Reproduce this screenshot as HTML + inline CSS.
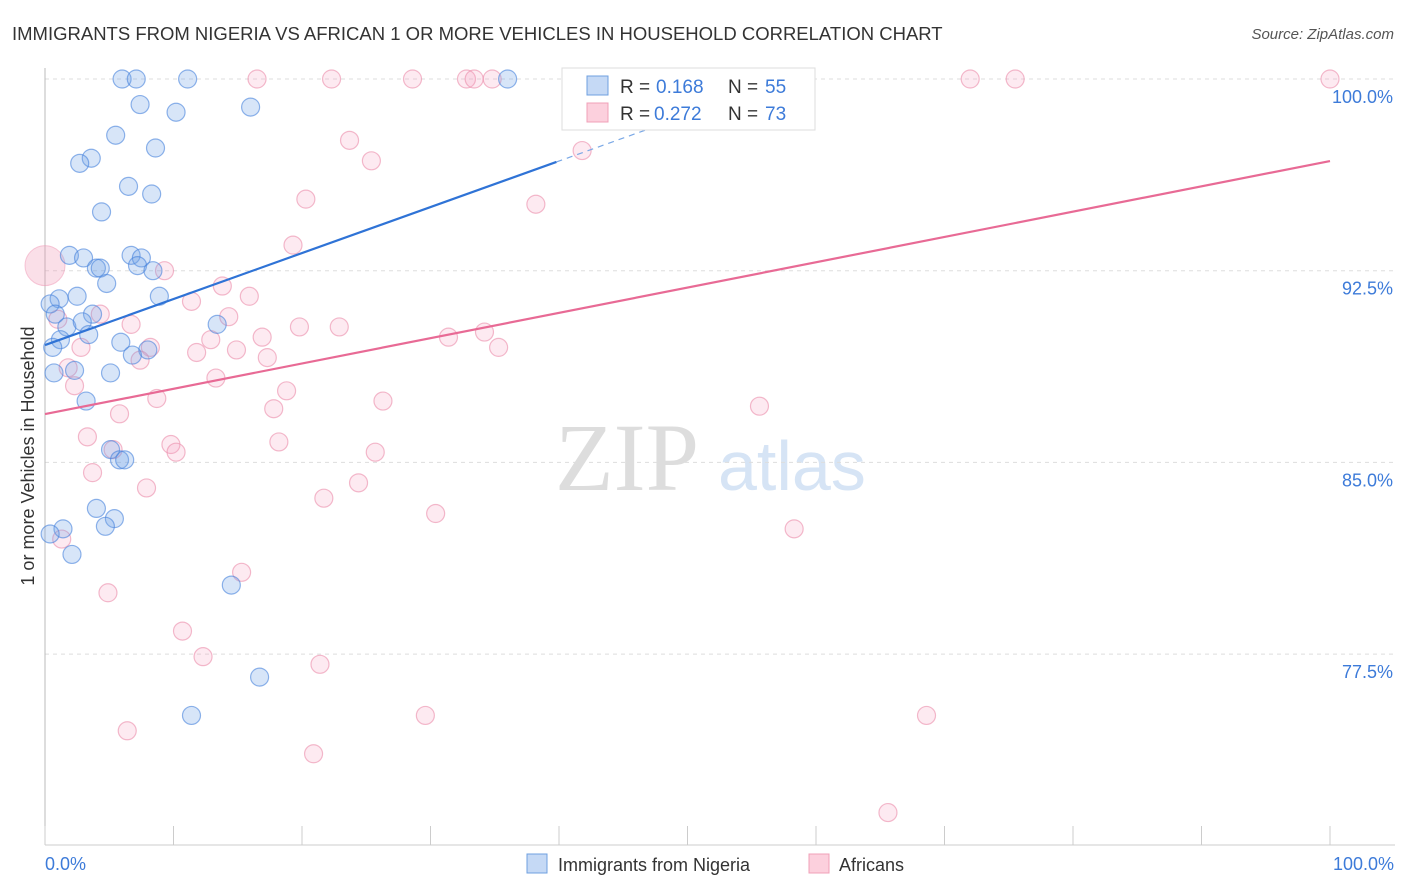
<!DOCTYPE html>
<html><head><meta charset="utf-8"><style>
body{margin:0;background:#fff;font-family:"Liberation Sans",sans-serif;}
svg{display:block}
</style></head><body>
<svg id="chart" width="1406" height="892">
<text x="12" y="40" font-size="18.5" fill="#333">IMMIGRANTS FROM NIGERIA VS AFRICAN 1 OR MORE VEHICLES IN HOUSEHOLD CORRELATION CHART</text>
<text x="1394" y="39" font-size="15" fill="#555" font-style="italic" text-anchor="end">Source: ZipAtlas.com</text>
<text x="555" y="490" font-size="96" fill="#ddd" font-family="Liberation Serif,serif">ZIP</text>
<text x="718" y="490" font-size="70" fill="#d6e4f5">atlas</text>
<g id="grid"></g>
<g id="marks"></g>
<text transform="translate(34,456) rotate(-90)" font-size="18" fill="#333" text-anchor="middle">1 or more Vehicles in Household</text>
<text x="45" y="870" font-size="18" fill="#3d7bd9">0.0%</text>
<text x="1394" y="870" font-size="18" fill="#3d7bd9" text-anchor="end">100.0%</text>
<g>
<rect x="562" y="68" width="253" height="62" fill="#fff" stroke="#ddd"/>
<rect x="587" y="76" width="21" height="19" fill="#c5d9f5" stroke="#6fa0e0"/>
<rect x="587" y="103" width="21" height="19" fill="#fcd0dd" stroke="#f0a0b8"/>
<text x="620" y="93" font-size="19" fill="#333">R =</text>
<text x="656" y="93" font-size="19" fill="#3d7bd9">0.168</text>
<text x="728" y="93" font-size="19" fill="#333">N =</text>
<text x="765" y="93" font-size="19" fill="#3d7bd9">55</text>
<text x="620" y="120" font-size="19" fill="#333">R =</text>
<text x="654" y="120" font-size="19" fill="#3d7bd9">0.272</text>
<text x="728" y="120" font-size="19" fill="#333">N =</text>
<text x="765" y="120" font-size="19" fill="#3d7bd9">73</text>
</g>
<g>
<rect x="527" y="854" width="20" height="19" fill="#c5d9f5" stroke="#6fa0e0"/>
<text x="558" y="871" font-size="18" fill="#333">Immigrants from Nigeria</text>
<rect x="809" y="854" width="20" height="19" fill="#fcd0dd" stroke="#f0a0b8"/>
<text x="839" y="871" font-size="18" fill="#333">Africans</text>
</g>
</svg>
<script>
const yTicks=[100,92.5,85,77.5];
const yTickLabels=["100.0%","92.5%","85.0%","77.5%"];
const xTicks=[0,10,20,30,40,50,60,70,80,90,100];
const blueX=[6.0,7.1,11.1,36.0,7.4,10.2,16.0,5.5,8.6,3.6,2.7,6.5,8.3,4.4,1.9,3.0,6.7,7.5,4.0,4.3,7.2,8.4,4.8,2.5,1.1,8.9,0.4,3.7,0.8,1.7,2.9,13.4,3.4,1.2,0.6,5.9,8.0,6.8,2.3,5.1,0.7,3.2,5.1,5.8,6.2,4.0,1.4,5.4,4.7,0.4,2.1,14.5,16.7,11.4];
const blueY=[100,100,100,100,99.0,98.7,98.9,97.8,97.3,96.9,96.7,95.8,95.5,94.8,93.1,93.0,93.1,93.0,92.6,92.6,92.7,92.5,92.0,91.5,91.4,91.5,91.2,90.8,90.8,90.3,90.5,90.4,90.0,89.8,89.5,89.7,89.4,89.2,88.6,88.5,88.5,87.4,85.5,85.1,85.1,83.2,82.4,82.8,82.5,82.2,81.4,80.2,76.6,75.1];
const pinkX=[16.5,22.3,28.6,32.8,33.4,34.8,42.6,52.4,59.1,72.0,75.5,100,23.7,25.4,41.8,20.3,38.2,19.3,9.3,13.8,15.9,11.4,14.3,1.0,4.3,6.7,19.8,22.9,16.9,31.4,34.2,12.9,2.8,11.8,14.9,8.2,17.3,35.3,7.4,1.8,2.3,13.3,8.7,18.8,26.3,17.8,5.8,55.6,3.3,9.8,10.2,18.2,25.7,5.3,3.7,7.9,24.4,21.7,30.4,58.3,1.3,15.3,4.9,10.7,12.3,21.4,29.6,68.6,6.4,20.9,65.6];
const pinkY=[100,100,100,100,100,100,100,100,100,100,100,100,97.6,96.8,97.2,95.3,95.1,93.5,92.5,91.9,91.5,91.3,90.7,90.6,90.8,90.4,90.3,90.3,89.9,89.9,90.1,89.8,89.5,89.3,89.4,89.5,89.1,89.5,89.0,88.7,88.0,88.3,87.5,87.8,87.4,87.1,86.9,87.2,86.0,85.7,85.4,85.8,85.4,85.5,84.6,84.0,84.2,83.6,83.0,82.4,82.0,80.7,79.9,78.4,77.4,77.1,75.1,75.1,74.5,73.6,71.3];
const bigPink=[0,92.7];
const blueTrend=[89.59,0.18];
const pinkTrend=[86.89,0.099];
const NS="http://www.w3.org/2000/svg";
const X=v=>45+v*12.85;
const Y=v=>79+(100-v)*25.56;
function mk(tag,attrs,parent){const e=document.createElementNS(NS,tag);for(const k in attrs)e.setAttribute(k,attrs[k]);parent.appendChild(e);return e;}
const grid=document.getElementById('grid'),marks=document.getElementById('marks'),svg=document.getElementById('chart');
yTicks.forEach((t,i)=>{
 const l=mk('line',{x1:45,x2:1395,y1:Y(t),y2:Y(t),stroke:'#ddd','stroke-dasharray':'4,4'},grid);
 
 
 const tx=mk('text',{x:1393,y:Y(t)+24,'font-size':18,fill:'#3d7bd9','text-anchor':'end'},svg);
 tx.textContent=yTickLabels[i];
 
 
});
const ax=mk('line',{x1:45,x2:45,y1:68,y2:845,stroke:'#bbb'},grid);


const bx=mk('line',{x1:45,x2:1395,y1:845,y2:845,stroke:'#ccc'},grid);


xTicks.forEach(t=>{
 const l=mk('line',{x1:X(t),x2:X(t),y1:826,y2:845,stroke:'#ccc'},grid);
 
 
});
function dots(xs,ys,fill,stroke,name){xs.forEach((x,i)=>{
 const c=mk('circle',{cx:X(x),cy:Y(ys[i]),r:9,fill:fill,stroke:stroke,'stroke-width':1.2},marks);
 
 
});}
const bp=mk('circle',{cx:X(bigPink[0]),cy:Y(bigPink[1]),r:20,fill:'rgba(240,150,180,0.3)',stroke:'rgba(240,150,180,0.5)'},marks);


dots(pinkX,pinkY,'rgba(245,160,190,0.22)','rgba(235,140,170,0.6)','africans-point');
dots(blueX,blueY,'rgba(110,160,230,0.28)','rgba(70,130,220,0.6)','nigeria-point');
const b1=mk('line',{x1:X(0),y1:Y(blueTrend[0]),x2:X(39.8),y2:Y(blueTrend[0]+blueTrend[1]*39.8),stroke:'#2f73d6','stroke-width':2.2},marks);


const b2=mk('line',{x1:X(39.8),y1:Y(blueTrend[0]+blueTrend[1]*39.8),x2:X(56),y2:Y(blueTrend[0]+blueTrend[1]*56),stroke:'#7aa8e6','stroke-width':1.2,'stroke-dasharray':'6,5'},marks);


const p1=mk('line',{x1:X(0),y1:Y(pinkTrend[0]),x2:X(100),y2:Y(pinkTrend[0]+pinkTrend[1]*100),stroke:'#e86a95','stroke-width':2.2},marks);


</script>
</body></html>
